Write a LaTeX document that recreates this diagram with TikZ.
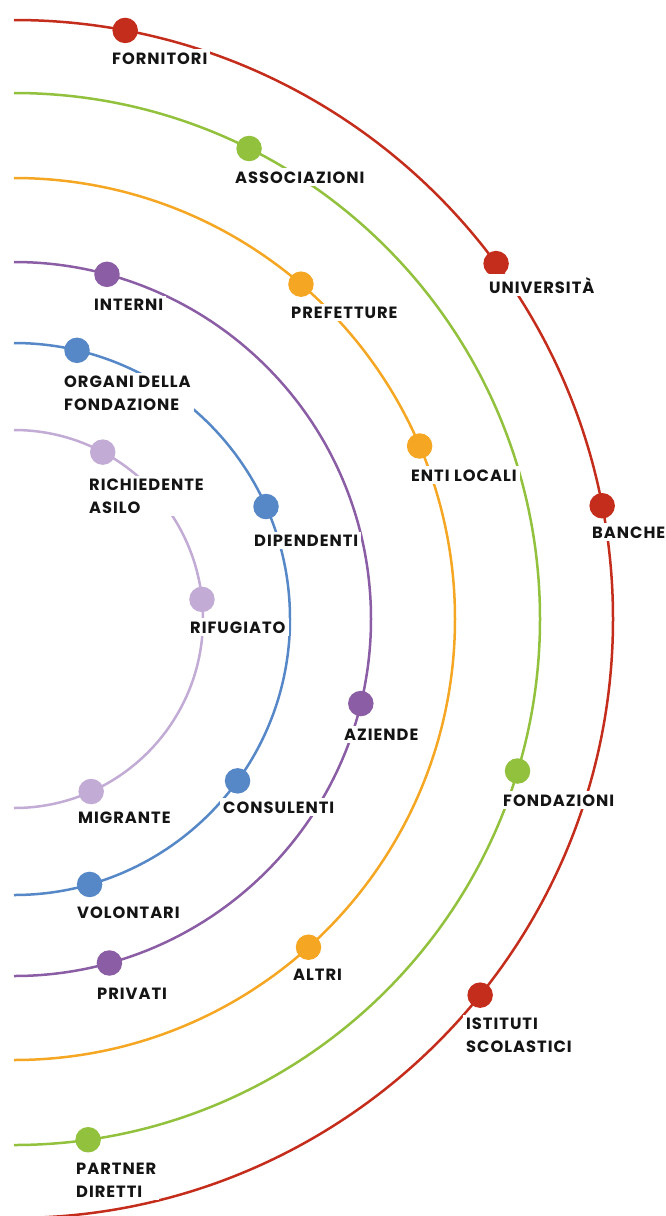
\documentclass[tikz,border=0pt]{standalone}
\usepackage{fontspec}
\newfontfamily\lblfont{Poppins}[LetterSpace=6]
\usepackage{tikz}

\definecolor{cRed}{HTML}{C42D1C}
\definecolor{cGreen}{HTML}{92C13E}
\definecolor{cOrange}{HTML}{F5A724}
\definecolor{cPurple}{HTML}{8A5DA5}
\definecolor{cBlue}{HTML}{5687C7}
\definecolor{cLilac}{HTML}{C2ABD5}
\definecolor{cText}{HTML}{141414}

\tikzset{
  ring/.style={line width=2.5pt},
  dot/.style={circle, inner sep=0pt, minimum size=25.5pt},
  lbl/.style={anchor=base west, fill=white, inner sep=3pt, align=left, text=cText,
    font=\lblfont\bfseries\fontsize{16.3pt}{22.4pt}\selectfont}
}

\begin{document}
\begin{tikzpicture}[x=1pt, y=1pt]
    \useasboundingbox (0,0) rectangle (665,-1216);
    \clip (0,0) rectangle (665,-1216);

    \begin{scope}[shift={(14,-619)}]
        % rings
        \draw [ring, cRed] (90:599) arc (90:-90:599);
        \draw [ring, cGreen] (90:526) arc (90:-90:526);
        \draw [ring, cOrange] (90:441) arc (90:-90:441);
        \draw [ring, cPurple] (90:357) arc (90:-90:357);
        \draw [ring, cBlue] (90:276) arc (90:-90:276);
        \draw [ring, cLilac] (90:189) arc (90:-90:189);

        % dots
        \node [dot, fill=cRed] (dFornitori) at (79.3:599) {};
        \node [dot, fill=cRed] (dUniversita) at (36.4:599) {};
        \node [dot, fill=cRed] (dBanche) at (10.9:599) {};
        \node [dot, fill=cRed] (dIstituti) at (-38.9:599) {};

        \node [dot, fill=cGreen] (dAssociazioni) at (63.45:526) {};
        \node [dot, fill=cGreen] (dFondazioni) at (-16.8:526) {};
        \node [dot, fill=cGreen] (dPartner) at (-81.9:526) {};

        \node [dot, fill=cOrange] (dPrefetture) at (49.4:441) {};
        \node [dot, fill=cOrange] (dEntiLocali) at (23.1:441) {};
        \node [dot, fill=cOrange] (dAltri) at (-48.1:441) {};

        \node [dot, fill=cPurple] (dInterni) at (74.9:357) {};
        \node [dot, fill=cPurple] (dAziende) at (-13.7:357) {};
        \node [dot, fill=cPurple] (dPrivati) at (-74.5:357) {};

        \node [dot, fill=cBlue] (dOrgani) at (76.8:276) {};
        \node [dot, fill=cBlue] (dDipendenti) at (24.05:276) {};
        \node [dot, fill=cBlue] (dConsulenti) at (-35.9:276) {};
        \node [dot, fill=cBlue] (dVolontari) at (-74.1:276) {};

        \node [dot, fill=cLilac] (dRichiedente) at (62.0:189) {};
        \node [dot, fill=cLilac] (dRifugiato) at (5.96:189) {};
        \node [dot, fill=cLilac] (dMigrante) at (-65.9:189) {};
    \end{scope}

    % labels (two-line ones sit on their last line)
    \node [lbl] (lFornitori) at (109,-64) {FORNITORI};
    \node [lbl] (lUniversita) at (486,-293) {UNIVERSITÀ};
    \node [lbl] (lBanche) at (589,-538) {BANCHE};
    \node [lbl] (lIstituti) at (463,-1052) {ISTITUTI\\SCOLASTICI};

    \node [lbl] (lAssociazioni) at (232,-183) {ASSOCIAZIONI};
    \node [lbl] (lFondazioni) at (500,-806) {FONDAZIONI};
    \node [lbl] (lPartner) at (73,-1197) {PARTNER\\DIRETTI};

    \node [lbl] (lPrefetture) at (288,-318) {PREFETTURE};
    \node [lbl] (lEntiLocali) at (408,-481) {ENTI LOCALI};
    \node [lbl] (lAltri) at (290,-980) {ALTRI};

    \node [lbl] (lInterni) at (91,-310) {INTERNI};
    \node [lbl] (lAziende) at (341,-740) {AZIENDE};
    \node [lbl] (lPrivati) at (94,-999) {PRIVATI};

    \node [lbl] (lOrgani) at (61,-410) {ORGANI DELLA\\FONDAZIONE};
    \node [lbl] (lDipendenti) at (251,-546) {DIPENDENTI};
    \node [lbl] (lConsulenti) at (220,-813) {CONSULENTI};
    \node [lbl] (lVolontari) at (74,-918) {VOLONTARI};

    \node [lbl] (lRichiedente) at (86,-513) {RICHIEDENTE\\ASILO};
    \node [lbl] (lRifugiato) at (187,-633) {RIFUGIATO};
    \node [lbl] (lMigrante) at (75,-823) {MIGRANTE};

\end{tikzpicture}
\end{document}
